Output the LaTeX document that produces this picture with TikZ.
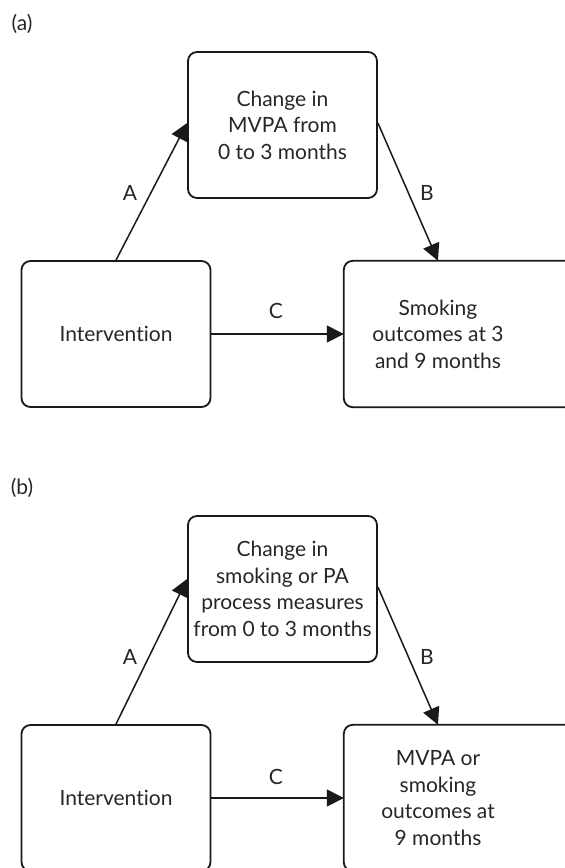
\documentclass[tikz,border=0pt]{standalone}
\usepackage{fontspec}
\setmainfont{Lato}[Ligatures={NoCommon}]
\usetikzlibrary{arrows.meta}

\begin{document}
\begin{tikzpicture}[x=1pt,y=-1pt,
  font=\fontsize{21}{26.5}\selectfont,
  every node/.style={text=black!85},
  frame/.style={draw=black!90, line width=1.8pt, rounded corners=9pt},
  box/.style={frame, minimum width=189pt, minimum height=146pt, inner sep=0pt, align=center},
  textonly/.style={minimum width=188pt, minimum height=146pt, inner sep=0pt, align=center},
  link/.style={draw=black!90, line width=1.5pt, -{Triangle[length=17pt,width=17pt]}},
  lbl/.style={inner sep=0pt}
]
\useasboundingbox (0,0) rectangle (565,868);
\clip (0,0) rectangle (565,868);

% ---------------- panel (a) ----------------
\node[lbl] (pa) at (22,24) {(a)};
\node[box] (ma) at (282.5,125) {Change in\\MVPA from\\0 to 3 months};
\node[box] (ia) at (116,334) {Intervention};
\node[textonly] (sa) at (438,334) {Smoking\\outcomes at 3\\and 9 months};
\draw[frame] (sa.north west) rectangle ([xshift=120pt]sa.south east);

\draw[link] (ia.north) -- ([yshift=2pt]ma.west);
\draw[link] ([yshift=2pt]ma.east) -- (sa.north);
\draw[link] (ia.east) -- (sa.west);
\node[lbl] (la) at (130,193) {A};
\node[lbl] (lb) at (427,193) {B};
\node[lbl] (lc) at (276,311) {C};

% ---------------- panel (b) ----------------
\node[lbl] (pb) at (22,488) {(b)};
\node[box] (mb) at (282.5,589) {Change in\\smoking or PA\\process measures\\from 0 to 3 months};
\node[box] (ib) at (116,798) {Intervention};
\node[textonly] (sb) at (438,798) {MVPA or\\smoking\\outcomes at\\9 months};
\draw[frame] (sb.north west) rectangle ([xshift=120pt]sb.south east);

\draw[link] (ib.north) -- ([yshift=10pt]mb.west);
\draw[link] ([yshift=2pt]mb.east) -- (sb.north);
\draw[link] (ib.east) -- (sb.west);
\node[lbl] (lab) at (130,657) {A};
\node[lbl] (lbb) at (427,657) {B};
\node[lbl] (lcb) at (276,777) {C};
\end{tikzpicture}
\end{document}
